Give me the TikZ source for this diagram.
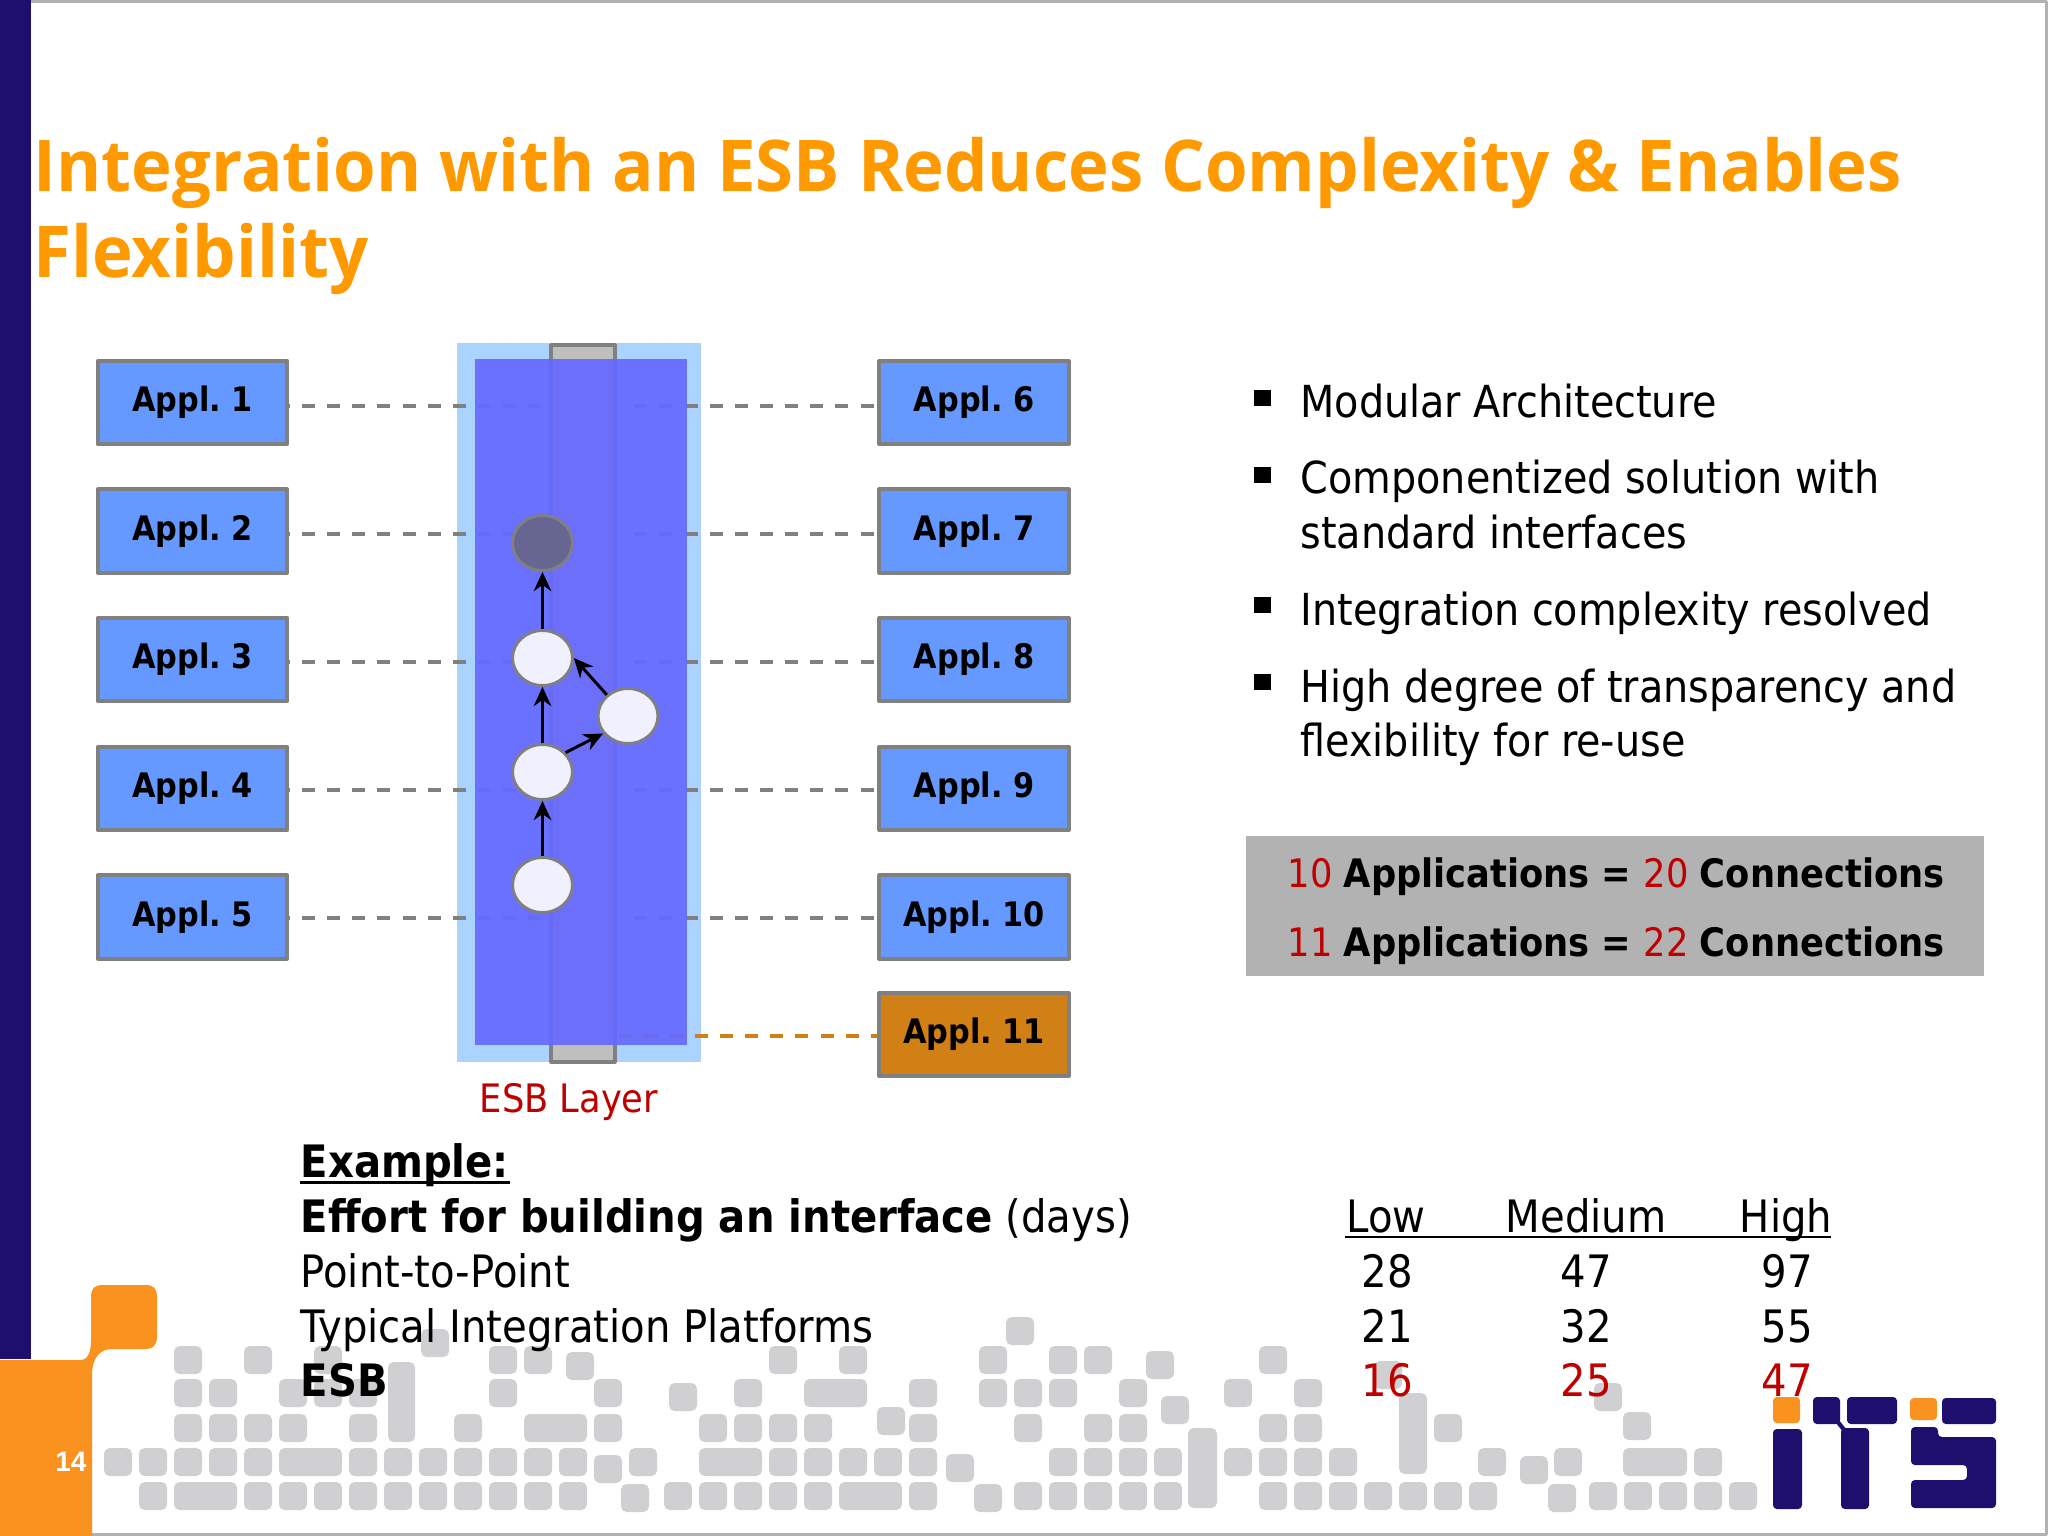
\documentclass[tikz,border=0pt]{standalone}
\usepackage{fontspec}
\usepackage{xcolor}
\usetikzlibrary{shapes.geometric,arrows.meta}
\setmainfont{DejaVu Sans Condensed}
\newfontfamily\headfont[FakeStretch=.965]{Open Sans}
\newfontfamily\pagefont{Liberation Sans}
\newfontfamily\applfont[WordSpace=.65]{DejaVu Sans Condensed}
\definecolor{navyband}{HTML}{1E0F6E}
\definecolor{orangeband}{HTML}{F9921E}
\definecolor{headcol}{HTML}{FF9900}
\definecolor{applblue}{HTML}{6699FF}
\definecolor{applorange}{HTML}{D08014}
\definecolor{esbout}{HTML}{AAD4FF}
\definecolor{esbin}{HTML}{6669FF}
\definecolor{redtxt}{HTML}{BF0000}
\definecolor{pixgray}{HTML}{D0D0D2}
\begin{document}
\begin{tikzpicture}[x=0.01cm,y=-0.01cm,>={Stealth[length=5.5pt,width=5pt]},line join=round,
	appl/.style={draw=gray,line width=1.1pt,fill=applblue,minimum width=53.8pt,minimum height=23.65pt,inner sep=0pt,font=\fontsize{9.6}{12}\selectfont\applfont\bfseries},
	dashline/.style={gray,line width=1.2pt,dash pattern=on 3.7pt off 3.45pt},
	esbnode/.style={ellipse,draw=gray,line width=.8pt,fill=#1,minimum width=17pt,minimum height=15.6pt,inner sep=0pt},
	flow/.style={->,line width=.85pt},
	txt/.style={anchor=base west,inner sep=0pt,font=\fontsize{12.7}{15}\selectfont},
	bul/.style={anchor=base west,inner sep=0pt,font=\fontsize{12.55}{15}\selectfont},
	sumtxt/.style={anchor=base west,inner sep=0pt,font=\fontsize{11.15}{14}\selectfont},
	mid/.style={anchor=base,inner sep=0pt,font=\fontsize{12.7}{15}\selectfont},
	head/.style={anchor=base west,inner sep=0pt,text=headcol,font=\fontsize{20.3}{24}\selectfont\headfont\bfseries},
	pix/.style={fill=pixgray,rounded corners=1.6pt},
	logo/.style={fill=navyband,rounded corners=1.1pt}]
	\useasboundingbox (0,0) rectangle (2048,1536);
	\fill[white] (0,0) rectangle (2048,1536);
	\draw[gray!60,line width=.9pt] (0,1.5) -- (2046.5,1.5) -- (2046.5,1534.5) -- (0,1534.5);
	% band
	\fill[navyband] (0,0) rectangle (31,1359);
	\fill[orangeband] (0,1360) -- (80,1360) .. controls (88,1360) and (91,1352) .. (91,1340) -- (91,1297) .. controls (91,1288) and (95,1285) .. (102,1285) -- (146,1285) .. controls (154,1285) and (157,1289) .. (157,1297) -- (157,1336) .. controls (157,1345) and (153,1349) .. (146,1349) -- (112,1349) .. controls (100,1349) and (92,1358) .. (92,1375) -- (92,1536) -- (0,1536) -- cycle;
	\node[text=white,inner sep=0pt,font=\fontsize{8}{10}\selectfont\pagefont\bfseries] (pageno) at (71,1462) {14};
	% pixels
	\foreach \y/\cols in {1360/{2,4,6,11,12,19,21,25,27,28,33},
		1393/{2,3,5,6,7,11,14,18,23,25,26,27,29,32,34},
		1428/{2,3,4,5,7,10,14,17,18,19,20,23,26,28,29,33,34,38},
		1462/{0,1,2,3,4,7,8,9,10,11,12,13,15,19,20,21,22,23,27,28,29,30,32,33,34,35},
		1496/{1,4,5,6,7,8,9,10,11,12,13,16,17,18,19,20,23,26,27,28,29,30,33,34,35,36,37,38,39}}{
		\foreach \k in \cols
			\fill[pix] ({118+35*\k-14},\y-14) rectangle +(28,28);
	}
	% wide and shifted pixels
	\foreach \k/\y in {5/1462,2/1496,12/1428,17/1462,20/1393,21/1496}
		\fill[pix] ({118+35*\k-14},\y-14) rectangle +(63,28);
	\foreach \x/\y in {435/1343,580/1366,608/1469,635/1498,683/1397,891/1421,960/1468,988/1498,1020/1331}
		\fill[pix] (\x-14,\y-14) rectangle +(28,28);
	\foreach \x/\y in {1160/1365,1175/1410,1492/1462,1534/1470,1568/1462,1562/1498,1603/1496,1388/1375,1608/1397,1637/1426,1638/1496,1673/1496,1708/1496,1743/1496,1708/1462}
		\fill[pix] (\x-14,\y-14) rectangle +(28,28);
	\fill[pix] (1623,1448) rectangle +(64,28);
	\fill[pix] (388,1362) rectangle (415,1442);
	\fill[pix] (1188,1428) rectangle (1217,1508);
	\fill[pix] (1399,1393) rectangle (1427,1474);
	% logo
	\fill[orangeband,rounded corners=1.1pt] (1773,1397) rectangle (1800,1423);
	\fill[orangeband,rounded corners=1.1pt] (1910,1398) rectangle (1937,1420);
	\fill[logo] (1773,1429) rectangle (1802,1509);
	\fill[logo] (1813,1397) rectangle (1840,1424);
	\fill[logo] (1847,1397) rectangle (1897,1424);
	\fill[logo] (1841,1428) rectangle (1869,1509);
	\fill[logo] (1942,1398) rectangle (1996,1424);
	\fill[logo] (1911,1427) -- (1938,1427) -- (1938,1437) -- (1996,1437) -- (1996,1508) -- (1911,1508) -- (1911,1480) -- (1967,1480) -- (1967,1465) -- (1911,1465) -- cycle;
	\draw[navyband,line width=1.2pt] (1837,1421) -- (1845,1431);
	% title
	\node[head] (title1) at (33,191) {Integration with an ESB Reduces Complexity \& Enables};
	\node[head] (title2) at (33,277) {Flexibility};
	% esb layer
	\fill[esbout] (457,343) rectangle (701,1062);
	\draw[gray,line width=.9pt,fill=black!25] (551,345) rectangle (615,1062);
	\foreach \i/\y in {1/402.5,2/531,3/659.5,4/788.5,5/917}
		\node[appl] (a\i) at (192.5,\y) {Appl. \i};
	\foreach \i/\y in {6/402.5,7/531,8/659.5,9/788.5,10/917}
		\node[appl] (a\i) at (974,\y) {Appl. \i};
	\node[appl,fill=applorange] (a11) at (974,1034.5) {Appl. 11};
	\foreach \i/\y in {1/406,2/534,3/662,4/790,5/918}{
		\coordinate (l\i) at (540,\y);
		\draw[dashline,dash phase=3.45pt] (l\i -| a\i.east) -- (l\i);
	}
	\foreach \i/\y in {6/406,7/534,8/662,9/790,10/918}{
		\coordinate (l\i) at (627,\y);
		\draw[dashline,dash phase=6.05pt] (l\i -| a\i.west) -- (l\i);
	}
	\coordinate (l11) at (618,1036);
	\draw[dashline,draw=applorange,dash phase=1.8pt] (l11 -| a11.west) -- (l11);
	\fill[esbin,opacity=.92] (475,359) rectangle (687,1045);
	\node[esbnode=black!15!blue!20!gray] (n1) at (542.5,543) {};
	\node[esbnode=blue!6] (n2) at (542.5,658) {};
	\node[esbnode=blue!6] (n3) at (628,716) {};
	\node[esbnode=blue!6] (n4) at (542.5,772) {};
	\node[esbnode=blue!6] (n5) at (542.5,885) {};
	\draw[flow] (n5) -- (n4);
	\draw[flow] (n4) -- (n2);
	\draw[flow] (n2) -- (n1);
	\draw[flow] (n4.40) -- (n3.215);
	\draw[flow] (n3.135) -- (n2.0);
	\node[sumtxt,anchor=base,text=redtxt] (esblabel) at (569,1112) {ESB Layer};
	% bullets
	\foreach \y in {390,467,597,674}
		\fill (1254,\y) rectangle +(17,16);
	\node[bul] (b1) at (1300,417) {Modular Architecture};
	\node[bul] (b2) at (1300,493) {Componentized solution with};
	\node[bul] (b3) at (1300,548) {standard interfaces};
	\node[bul] (b4) at (1300,625) {Integration complexity resolved};
	\node[bul] (b5) at (1300,702) {High degree of transparency and};
	\node[bul] (b6) at (1300,756) {flexibility for re-use};
	% count box
	\fill[black!30] (1246,836) rectangle (1984,976);
	\node[sumtxt] (s1) at (1287,887) {\textcolor{redtxt}{10} \textbf{Applications = }\textcolor{redtxt}{20} \textbf{Connections}};
	\node[sumtxt] (s2) at (1287,956) {\textcolor{redtxt}{11} \textbf{Applications = }\textcolor{redtxt}{22} \textbf{Connections}};
	% example
	\node[txt] (e1) at (300,1177) {\textbf{Example:}};
	\draw[line width=1pt] ([yshift=-1.6pt]e1.base west) -- ([yshift=-1.6pt]e1.base east);
	\node[txt] (e2) at (300,1232) {\textbf{Effort for building an interface} (days)};
	\node[txt] (e3) at (300,1287) {Point-to-Point};
	\node[txt] (e4) at (300,1342) {Typical Integration Platforms};
	\node[txt] (e5) at (300,1396) {\textbf{ESB}};
	\node[mid] (low) at (1386,1232) {Low};
	\node[mid] (medium) at (1586,1232) {Medium};
	\node[mid] (high) at (1786,1232) {High};
	\coordinate (ulstart) at (1345,1237);
	\coordinate (ulend) at (1831,1237);
	\draw[line width=.8pt] (ulstart) -- (ulend);
	\foreach \x/\a/\b/\c in {1387/28/21/16,1586/47/32/25,1787/97/55/47}{
		\node[mid] (p\x) at (\x,1287) {\a};
		\node[mid] (t\x) at (\x,1342) {\b};
		\node[mid,text=redtxt] (s\x) at (\x,1396) {\c};
	}
\end{tikzpicture}
\end{document}
